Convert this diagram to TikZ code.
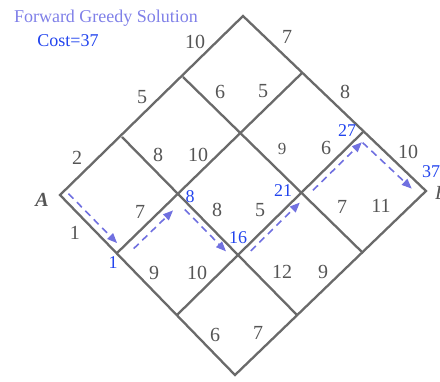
\documentclass[tikz,border=0pt]{standalone}
\usepackage{fontspec}
\setmainfont{Liberation Serif}
\usetikzlibrary{arrows.meta,calc}
\definecolor{gridgray}{HTML}{6A6A6A}
\definecolor{numgray}{HTML}{555555}
\definecolor{pathblue}{HTML}{2244EE}
\definecolor{titlelav}{HTML}{7F80E8}
\definecolor{flowlav}{HTML}{7070E0}
\begin{document}
\begin{tikzpicture}[x=1pt,y=-1pt,
  grid/.style={draw=gridgray, line width=2.3pt},
  num/.style={text=numgray, font=\fontsize{20}{20}\selectfont, inner sep=0pt},
  val/.style={text=pathblue, font=\fontsize{18}{18}\selectfont, inner sep=0pt},
  flow/.style={draw=flowlav, line width=1.6pt, dash pattern=on 7pt off 5pt,
    -{Triangle[length=10pt,width=8pt]}}]
\useasboundingbox (0,0) rectangle (440,381);
% boundary points
\coordinate (A) at (60,195);
\coordinate (P10) at (122,137);
\coordinate (P20) at (183,77);
\coordinate (T) at (243,16);
\coordinate (P01) at (117,253);
\coordinate (P02) at (177,315);
\coordinate (Bot) at (235,375);
\coordinate (P31) at (302,73);
\coordinate (P32) at (363,132);
\coordinate (B) at (426,191);
\coordinate (P13) at (297,315);
\coordinate (P23) at (363,253);
% grid
\draw[grid] (A) -- (T) -- (B) -- (Bot) -- cycle;
\draw[grid] (P01) -- (P31);
\draw[grid] (P02) -- (P32);
\draw[grid] (P10) -- (P13);
\draw[grid] (P20) -- (P23);
% inner vertices
\coordinate (P11) at (intersection of P01--P31 and P10--P13);
\coordinate (P12) at (intersection of P02--P32 and P10--P13);
\coordinate (P22) at (intersection of P02--P32 and P20--P23);
% greedy path arrows
\draw[flow, shorten <=5pt, shorten >=7pt] ($(A)!7pt!90:(P01)$) -- ($(P01)!7pt!-90:(A)$);
\draw[flow, shorten <=15pt, shorten >=15pt] ($(P01)!8.5pt!-90:(P11)$) -- ($(P11)!8.5pt!90:(P01)$);
\draw[flow, shorten <=16pt, shorten >=11pt] ($(P11)!6pt!-90:(P12)$) -- ($(P12)!6pt!90:(P11)$);
\draw[flow, shorten <=12pt, shorten >=8pt] ($(P12)!6pt!-90:(P22)$) -- ($(P22)!6pt!90:(P12)$);
\draw[flow, shorten <=10pt, shorten >=8pt] ($(P22)!6.5pt!-90:(P32)$) -- ($(P32)!6.5pt!90:(P22)$);
\draw[flow, shorten <=7pt, shorten >=12pt] ($(P32)!8pt!-90:(B)$) -- ($(B)!8pt!90:(P32)$);
% title
\node[text=titlelav, font=\fontsize{18}{18}\selectfont, inner sep=0pt] (title) at (106,18) {Forward Greedy Solution};
\node[text=pathblue, font=\fontsize{18}{18}\selectfont, inner sep=0pt] (cost) at (68,41) {Cost=37};
% end labels
\node[text=numgray, font=\fontsize{20}{20}\selectfont\bfseries\itshape, inner sep=0pt] (lA) at (42,200) {A};
\node[text=numgray, font=\fontsize{20}{20}\selectfont\itshape, inner sep=0pt, anchor=west] (lB) at (435,193) {B};
% edge costs
\node[num] (c1) at (195,42) {10};
\node[num] (c2) at (287,37) {7};
\node[num] (c3) at (142,97) {5};
\node[num] (c4) at (220,92) {6};
\node[num] (c5) at (263,91) {5};
\node[num] (c6) at (345,92) {8};
\node[num] (c7) at (77,158) {2};
\node[num] (c8) at (158,155) {8};
\node[num] (c9) at (198,155) {10};
\node[num, font=\fontsize{17}{17}\selectfont] (c10) at (282,149) {9};
\node[num] (c11) at (326,148) {6};
\node[num] (c12) at (408,152) {10};
\node[num] (c13) at (75,233) {1};
\node[num] (c14) at (140,212) {7};
\node[num] (c15) at (217,210) {8};
\node[num] (c16) at (260,210) {5};
\node[num] (c17) at (342,207) {7};
\node[num] (c18) at (381,206) {11};
\node[num] (c19) at (154,273) {9};
\node[num] (c20) at (197,273) {10};
\node[num] (c21) at (282,272) {12};
\node[num] (c22) at (323,272) {9};
\node[num] (c23) at (215,335) {6};
\node[num] (c24) at (258,333) {7};
% cumulative costs
\node[val] (v1) at (113,263) {1};
\node[val] (v2) at (190,197) {8};
\node[val] (v3) at (238,238) {16};
\node[val] (v4) at (283,191) {21};
\node[val] (v5) at (347,131) {27};
\node[val] (v6) at (431,172) {37};
\end{tikzpicture}
\end{document}
